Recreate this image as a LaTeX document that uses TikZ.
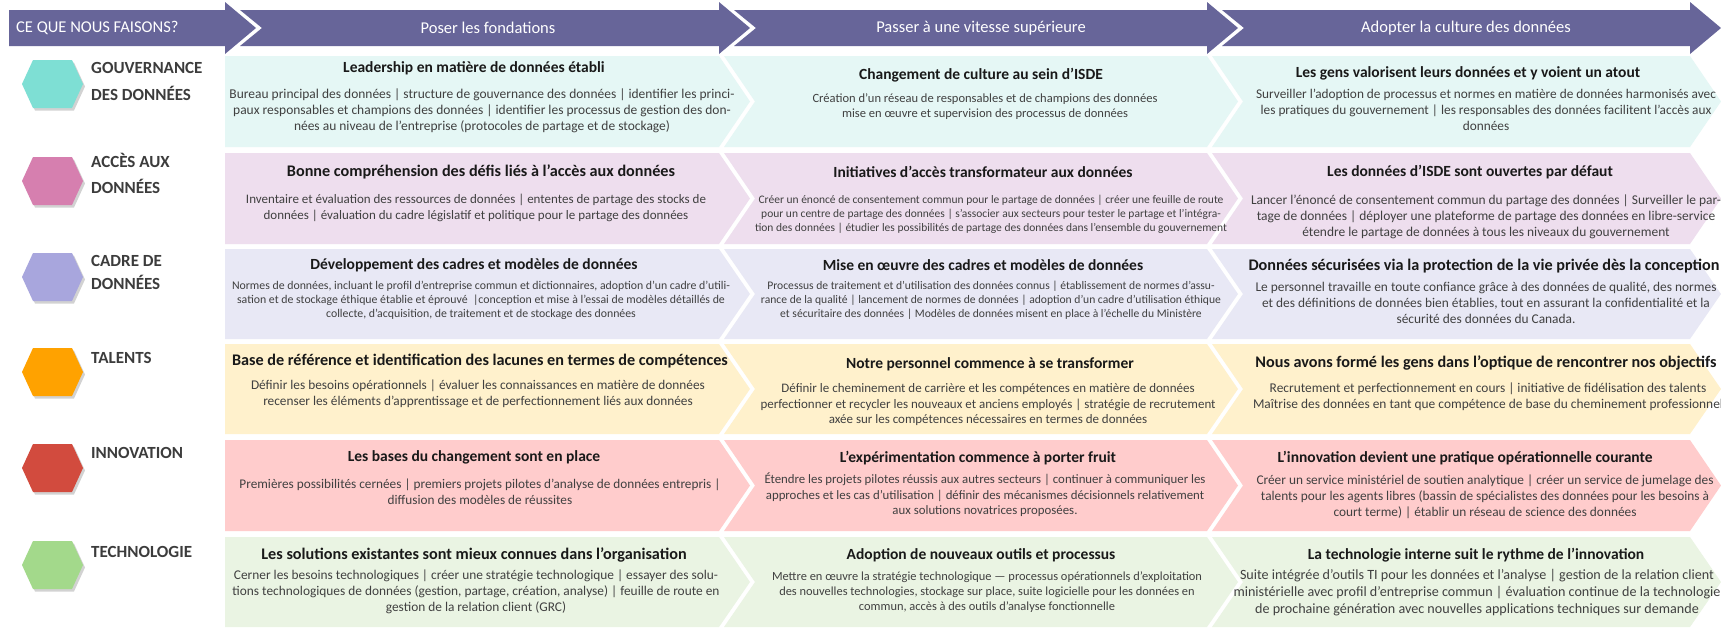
\documentclass[tikz,border=0pt]{standalone}
\usepackage{fontspec}
\usepackage{graphicx}
\setmainfont{Carlito}
\usetikzlibrary{shadows}
\definecolor{hdr}{RGB}{103,101,153}
\definecolor{bodygray}{RGB}{64,64,64}
\definecolor{lblgray}{RGB}{60,60,60}
\definecolor{hexA}{RGB}{126,223,212}
\definecolor{hexB}{RGB}{214,127,175}
\definecolor{hexC}{RGB}{168,166,221}
\definecolor{hexD}{RGB}{255,162,0}
\definecolor{hexE}{RGB}{210,75,62}
\definecolor{hexF}{RGB}{163,217,139}
\definecolor{rowA}{RGB}{229,247,245}
\definecolor{rowB}{RGB}{238,222,238}
\definecolor{rowC}{RGB}{232,232,245}
\definecolor{rowD}{RGB}{255,241,204}
\definecolor{rowE}{RGB}{255,204,204}
\definecolor{rowF}{RGB}{234,244,227}
\tikzset{
  hdrtext/.style={text=white, font=\fontsize{16.5}{18}\selectfont, inner sep=0pt},
  ttl/.style={font=\fontsize{15.5}{18}\selectfont\bfseries, text=black!90, inner sep=0pt},
  ttlbig/.style={ttl, font=\fontsize{16.2}{18}\selectfont\bfseries},
  bdy/.style={text=bodygray, inner sep=0pt},
  lbl/.style={font=\fontsize{17}{20}\selectfont\bfseries, text=lblgray, anchor=west, inner sep=0pt},
  hexshape/.style={drop shadow={opacity=0.35, shadow xshift=2pt, shadow yshift=-2.5pt}},
}
\newcommand\bodytext[2]{\resizebox{#1pt}{!}{\fontsize{12.5}{15}\selectfont\begin{tabular}{@{}c@{}}#2\end{tabular}}}
\newcommand\chevrow[3]{%
  \pgfmathsetmacro\ym{(#1+#2)/2}
  \fill[#3] (225,#1) -- (719,#1) -- (750,\ym) -- (719,#2) -- (225,#2) -- cycle;
  \fill[#3] (724,#1) -- (1207,#1) -- (1238,\ym) -- (1207,#2) -- (724,#2) -- (755,\ym) -- cycle;
  \fill[#3] (1212,#1) -- (1690,#1) -- (1721,\ym) -- (1690,#2) -- (1212,#2) -- (1243,\ym) -- cycle;
}
\newcommand\hexat[2]{%
  \fill[#2, hexshape] (22,#1) -- (33,#1-24) -- (72,#1-24) -- (83,#1) -- (72,#1+24) -- (33,#1+24) -- cycle;
}
\begin{document}
\begin{tikzpicture}[x=1pt,y=-1pt]
\useasboundingbox (0,0) rectangle (1721,627);
\fill[white] (0,0) rectangle (1721,627);
% header arrows
\fill[hdr] (9,10) -- (225,10) -- (225,2) -- (256,28) -- (225,54) -- (225,46) -- (9,46) -- cycle;
\fill[hdr] (240,10) -- (719,10) -- (719,2) -- (750,28) -- (719,54) -- (719,46) -- (240,46) -- (262,28) -- cycle;
\fill[hdr] (734,10) -- (1207,10) -- (1207,2) -- (1238,28) -- (1207,54) -- (1207,46) -- (734,46) -- (756,28) -- cycle;
\fill[hdr] (1222,10) -- (1690,10) -- (1690,2) -- (1721,28) -- (1690,54) -- (1690,46) -- (1222,46) -- (1244,28) -- cycle;
\node[hdrtext, anchor=west] (h0) at (16,28) {CE QUE NOUS FAISONS?};
\node[hdrtext] (h1) at (488,28) {Poser les fondations};
\node[hdrtext] (h2) at (981,28) {Passer à une vitesse supérieure};
\node[hdrtext] (h3) at (1466,28) {Adopter la culture des données};
% rows
\chevrow{56}{147}{rowA}
\chevrow{153}{244}{rowB}
\chevrow{249}{339}{rowC}
\chevrow{344}{434}{rowD}
\chevrow{440}{531}{rowE}
\chevrow{537}{627}{rowF}
% hexagons
\hexat{84}{hexA}
\hexat{181}{hexB}
\hexat{277}{hexC}
\hexat{372}{hexD}
\hexat{468}{hexE}
\hexat{565}{hexF}
% labels
\node[lbl] (l1a) at (91,68) {GOUVERNANCE};
\node[lbl] (l1b) at (91,93) {DES DONNÉES};
\node[lbl] (l2a) at (91,160) {ACCÈS AUX};
\node[lbl] (l2b) at (91,186) {DONNÉES};
\node[lbl] (l3a) at (91,261) {CADRE DE};
\node[lbl] (l3b) at (91,282) {DONNÉES};
\node[lbl] (l4) at (91,358) {TALENTS};
\node[lbl] (l5) at (91,453) {INNOVATION};
\node[lbl] (l6) at (91,552) {TECHNOLOGIE};
% row 1
\node[ttl] (t11) at (474,68) {Leadership en matière de données établi};
\node[bdy] (b11) at (482,111) {\bodytext{505}{Bureau principal des données | structure de gouvernance des données | identifier les princi-\\paux responsables et champions des données | identifier les processus de gestion des don-\\nées au niveau de l'entreprise (protocoles de partage et de stockage)}};
\node[ttl] (t12) at (981,75) {Changement de culture au sein d'ISDE};
\node[bdy] (b12) at (985,107) {\bodytext{345}{Création d'un réseau de responsables et de champions des données\\mise en œuvre et supervision des processus de données}};
\node[ttl] (t13) at (1468,73.5) {Les gens valorisent leurs données et y voient un atout};
\node[bdy] (b13) at (1486,111.4) {\bodytext{460}{Surveiller l'adoption de processus et normes en matière de données harmonisés avec\\les pratiques du gouvernement | les responsables des données facilitent l'accès aux\\données}};
% row 2
\node[ttlbig] (t21) at (481,172) {Bonne compréhension des défis liés à l’accès aux données};
\node[bdy] (b21) at (476,208.5) {\bodytext{460}{Inventaire et évaluation des ressources de données | ententes de partage des stocks de\\données | évaluation du cadre législatif et politique pour le partage des données}};
\node[ttl] (t22) at (983,172) {Initiatives d'accès transformateur aux données};
\node[bdy] (b22) at (991,215) {\bodytext{472}{Créer un énoncé de consentement commun pour le partage de données | créer une feuille de route\\pour un centre de partage des données | s'associer aux secteurs pour tester le partage et l'intégra-\\tion des données | étudier les possibilités de partage des données dans l’ensemble du gouvernement}};
\node[ttl] (t23) at (1470,172) {Les données d’ISDE sont ouvertes par défaut};
\node[bdy] (b23) at (1486,217) {\bodytext{470}{Lancer l’énoncé de consentement commun du partage des données | Surveiller le par-\\tage de données | déployer une plateforme de partage des données en libre-service\\étendre le partage de données à tous les niveaux du gouvernement}};
% row 3
\node[ttl] (t31) at (474,265.6) {Développement des cadres et modèles de données};
\node[bdy] (b31) at (481,300.7) {\bodytext{498}{Normes de données, incluant le profil d’entreprise commun et dictionnaires, adoption d’un cadre d’utili-\\sation et de stockage éthique établie et éprouvé~ |conception et mise à l’essai de modèles détaillés de\\collecte, d’acquisition, de traitement et de stockage des données}};
\node[ttl] (t32) at (983,265.6) {Mise en œuvre des cadres et modèles de données};
\node[bdy] (b32) at (991,300.7) {\bodytext{460}{Processus de traitement et d'utilisation des données connus | établissement de normes d'assu-\\rance de la qualité | lancement de normes de données | adoption d'un cadre d'utilisation éthique\\et sécuritaire des données | Modèles de données misent en place à l'échelle du Ministère}};
\node[ttlbig] (t33) at (1484,265.6) {Données sécurisées via la protection de la vie privée dès la conception};
\node[bdy] (b33) at (1486,304) {\bodytext{461}{Le personnel travaille en toute confiance grâce à des données de qualité, des normes\\et des définitions de données bien établies, tout en assurant la confidentialité et la\\sécurité des données du Canada.}};
% row 4
\node[ttlbig] (t41) at (480,361) {Base de référence et identification des lacunes en termes de compétences};
\node[bdy] (b41) at (478,394.6) {\bodytext{454}{Définir les besoins opérationnels | évaluer les connaissances en matière de données\\recenser les éléments d'apprentissage et de perfectionnement liés aux données}};
\node[ttl] (t42) at (990,364.4) {Notre personnel commence à se transformer};
\node[bdy] (b42) at (988,405) {\bodytext{455}{Définir le cheminement de carrière et les compétences en matière de données\\perfectionner et recycler les nouveaux et anciens employés | stratégie de recrutement\\axée sur les compétences nécessaires en termes de données}};
\node[ttlbig] (t43) at (1486,363) {Nous avons formé les gens dans l’optique de rencontrer nos objectifs};
\node[bdy] (b43) at (1488,397) {\bodytext{470}{Recrutement et perfectionnement en cours | initiative de fidélisation des talents\\Maîtrise des données en tant que compétence de base du cheminement professionnel}};
% row 5
\node[ttl] (t51) at (474,457.7) {Les bases du changement sont en place};
\node[bdy] (b51) at (480,493) {\bodytext{481}{Premières possibilités cernées | premiers projets pilotes d'analyse de données entrepris |\\diffusion des modèles de réussites}};
\node[ttl] (t52) at (978,457.7) {L'expérimentation commence à porter fruit};
\node[bdy] (b52) at (985,496) {\bodytext{441}{Étendre les projets pilotes réussis aux autres secteurs | continuer à communiquer les\\approches et les cas d'utilisation | définir des mécanismes décisionnels relativement\\aux solutions novatrices proposées.}};
\node[ttl] (t53) at (1465,457.7) {L’innovation devient une pratique opérationnelle courante};
\node[bdy] (b53) at (1485,497) {\bodytext{457}{Créer un service ministériel de soutien analytique | créer un service de jumelage des\\talents pour les agents libres (bassin de spécialistes des données pour les besoins à\\court terme) | établir un réseau de science des données}};
% row 6
\node[ttlbig] (t61) at (474,555.4) {Les solutions existantes sont mieux connues dans l’organisation};
\node[bdy] (b61) at (476,592.7) {\bodytext{487}{Cerner les besoins technologiques | créer une stratégie technologique | essayer des solu-\\tions technologiques de données (gestion, partage, création, analyse) | feuille de route en\\gestion de la relation client (GRC)}};
\node[ttl] (t62) at (981,555.4) {Adoption de nouveaux outils et processus};
\node[bdy] (b62) at (987,592.7) {\bodytext{430}{Mettre en œuvre la stratégie technologique — processus opérationnels d'exploitation\\des nouvelles technologies, stockage sur place, suite logicielle pour les données en\\commun, accès à des outils d'analyse fonctionnelle}};
\node[ttl] (t63) at (1476,555.4) {La technologie interne suit le rythme de l’innovation};
\node[bdy] (b63) at (1477,592.7) {\bodytext{487}{Suite intégrée d'outils TI pour les données et l'analyse | gestion de la relation client\\ministérielle avec profil d'entreprise commun | évaluation continue de la technologie\\de prochaine génération avec nouvelles applications techniques sur demande}};
\end{tikzpicture}
\end{document}
